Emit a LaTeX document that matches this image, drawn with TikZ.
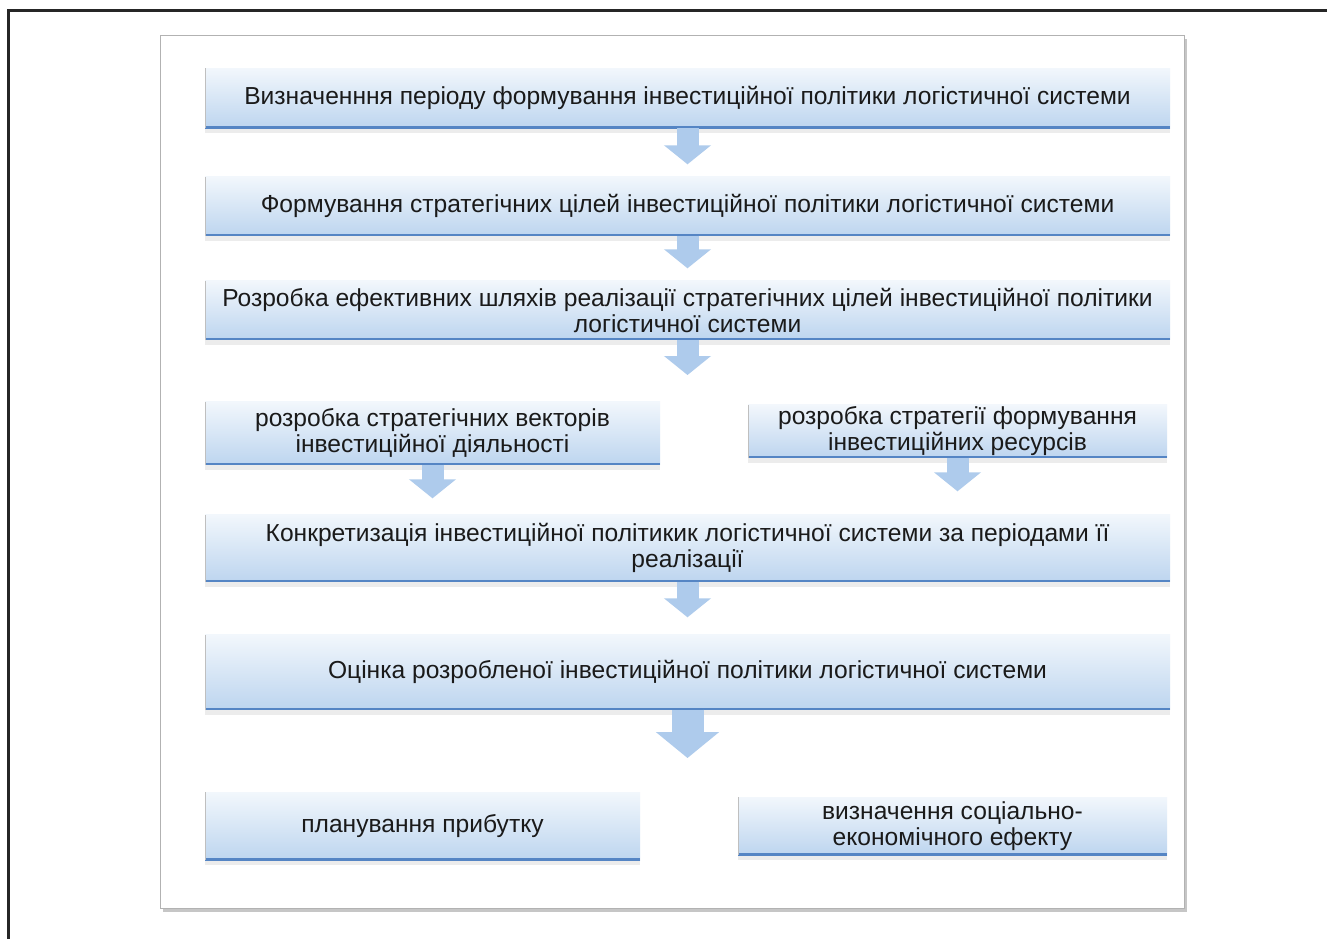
\documentclass[tikz,border=0pt]{standalone}
\usepackage{fontspec}
\setmainfont{Liberation Sans}
\usetikzlibrary{positioning, calc, shadows, arrows.meta}
\definecolor{boxtop}{HTML}{F2F7FC}
\definecolor{boxbottom}{HTML}{BDD5EF}
\definecolor{boxline}{HTML}{5585C4}
\definecolor{arrowblue}{HTML}{AECBEC}
\definecolor{textdark}{HTML}{1A1A1A}
\tikzset{
    x=1pt, y=-1pt, % pixel-like units, y runs downwards
    stepbox/.style={rectangle, top color=boxtop, bottom color=boxbottom, text=textdark,
        align=center, inner sep=0pt, font=\fontsize{24.6}{26}\selectfont,
        drop shadow={shadow xshift=0pt, shadow yshift=-5pt, opacity=0.15},
        path picture={
            \draw[line width=3.5pt, boxline] (path picture bounding box.south west) -- (path picture bounding box.south east);
            \draw[line width=1pt, gray!50] (path picture bounding box.south west) -- (path picture bounding box.north west);
        }}, % the blue boxes
    flow/.style={draw=arrowblue, line width=22pt, -{Triangle[width=46pt,length=19pt]}}, % the block arrows
    bigflow/.style={draw=arrowblue, line width=32pt, -{Triangle[width=62pt,length=26pt]}},
}

\begin{document}
\begin{tikzpicture}
    \useasboundingbox (0,0) rectangle (1327,938);
    \clip (0,0) rectangle (1327,938);
    % frame and panel
    \draw[line width=3pt, black!85] (8,10) rectangle (1360,980);
    \filldraw[fill=white, draw=gray!60, drop shadow={shadow xshift=3pt, shadow yshift=-4pt, opacity=0.45}] (160,35) rectangle (1184,908);

    \node[stepbox, minimum width=965pt, minimum height=60pt] (b1) at (687.5,98) {Визначенння періоду формування інвестиційної політики логістичної системи};
    \node[stepbox, minimum width=965pt, minimum height=59pt] (b2) at (687.5,206) {Формування стратегічних цілей інвестиційної політики логістичної системи};
    \node[stepbox, minimum width=965pt, minimum height=59pt] (b3) at (687.5,310) {Розробка ефективних шляхів реалізації стратегічних цілей інвестиційної політики\\логістичної системи};
    \node[stepbox, minimum width=455pt, minimum height=63pt] (vect) at (432.5,433) {розробка  стратегічних векторів\\інвестиційної діяльності};
    \node[stepbox, minimum width=419pt, minimum height=53pt] (res) at (957.5,431) {розробка стратегії формування\\інвестиційних ресурсів};
    \node[stepbox, minimum width=965pt, minimum height=67pt] (b5) at (687.5,548) {Конкретизація інвестиційної політикик логістичної системи за періодами її\\реалізації};
    \node[stepbox, minimum width=965pt, minimum height=75pt] (b6) at (687.5,672) {Оцінка розробленої інвестиційної політики логістичної системи};
    \node[stepbox, minimum width=435pt, minimum height=68pt] (profit) at (422.5,826) {планування прибутку};
    \node[stepbox, minimum width=429pt, minimum height=58pt] (effect) at (952.5,826) {визначення соціально-\\економічного ефекту};

    \coordinate (split) at (687.5,375);
    \coordinate (join) at (687.5,758);

    \draw[flow] (b1.south) -- ($(b2.north)+(0,-12)$);
    \draw[flow] (b2.south) -- ($(b3.north)+(0,-12)$);
    \draw[flow] (b3.south) -- (split);
    \draw[flow] (vect.south) -- ($(vect.south |- b5.north)+(0,-16)$);
    \draw[flow] (res.south) -- ($(res.south |- b5.north)+(0,-23)$);
    \draw[flow] (b5.south) -- ($(b6.north)+(0,-17)$);
    \draw[bigflow] (b6.south) -- (join);
\end{tikzpicture}
\end{document}
